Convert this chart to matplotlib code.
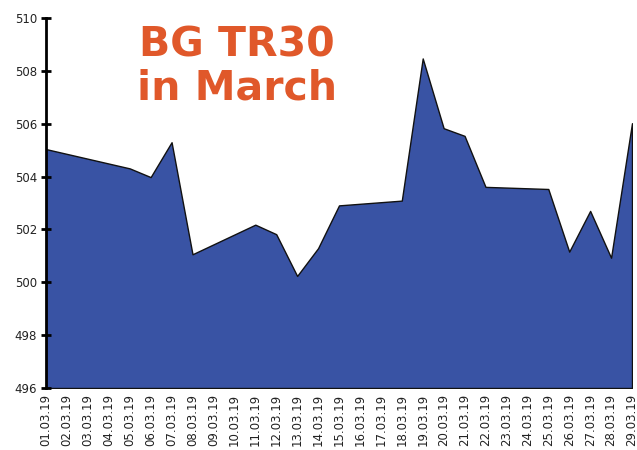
import matplotlib
matplotlib.use("Agg")
import matplotlib.pyplot as plt
import numpy as np

dates = ["01.03.19", "02.03.19", "03.03.19", "04.03.19", "05.03.19", "06.03.19", "07.03.19",
         "08.03.19", "09.03.19", "10.03.19", "11.03.19", "12.03.19", "13.03.19", "14.03.19",
         "15.03.19", "16.03.19", "17.03.19", "18.03.19", "19.03.19", "20.03.19", "21.03.19",
         "22.03.19", "23.03.19", "24.03.19", "25.03.19", "26.03.19", "27.03.19", "28.03.19",
         "29.03.19"]
trade_dates = ["01.03.19", "05.03.19", "06.03.19", "07.03.19", "08.03.19", "11.03.19",
               "12.03.19", "13.03.19", "14.03.19", "15.03.19", "18.03.19", "19.03.19",
               "20.03.19", "21.03.19", "22.03.19", "25.03.19", "26.03.19", "27.03.19",
               "28.03.19", "29.03.19"]
values = [505.04, 504.31, 503.98, 505.30, 501.06, 502.18, 501.82, 500.24, 501.29, 502.91,
          503.09, 508.47, 505.83, 505.54, 503.61, 503.53, 501.16, 502.70, 500.93, 506.02]
yticks = [496, 498, 500, 502, 504, 506, 508, 510]
title_text = "BG TR30\nin March"

fig = plt.figure(figsize=(6.37, 4.5), dpi=100)
ax = fig.add_axes([46/637, 62/450, 586/637, 370/450])

xpos = [dates.index(d) for d in trade_dates]
ax.fill_between(xpos, values, 496, facecolor="#3953A4", edgecolor="#111111", linewidth=1.0)

ax.set_xlim(0, len(dates) - 1)
ax.set_ylim(496, 510)
ax.set_xticks(range(len(dates)))
ax.set_xticklabels(dates, rotation=90, fontsize=8.5, color="#222222")
ax.set_yticks(yticks)
ax.set_yticklabels([str(v) for v in yticks], fontsize=8.5, color="#222222")
ax.tick_params(axis="x", length=0, pad=4)
ax.tick_params(axis="y", direction="inout", length=7, width=2, pad=3)

for s in ["top", "right", "bottom"]:
    ax.spines[s].set_visible(False)
ax.spines["left"].set_linewidth(2)
ax.spines["left"].set_color("black")

fig.text(237/637, 1 - 67/450, title_text, ha="center", va="center", fontsize=29.5,
         fontweight="bold", color="#E0582A", linespacing=1.12, family="DejaVu Sans")

fig.savefig("out.png", dpi=100)
